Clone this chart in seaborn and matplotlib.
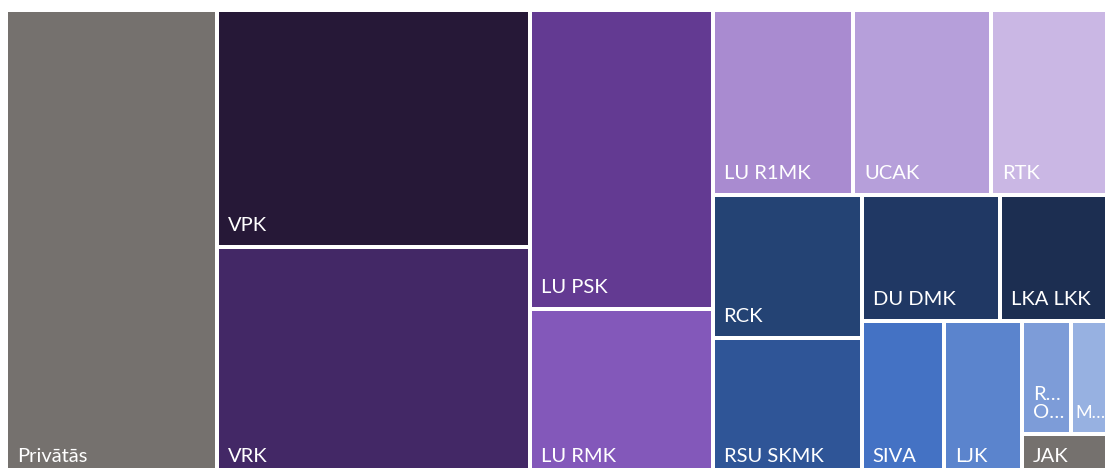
import matplotlib
matplotlib.use("Agg")
import matplotlib.pyplot as plt
from matplotlib.patches import Rectangle
import seaborn as sns

# data (relative sizes)
labels = ['Privātās', 'VPK', 'VRK', 'LU PSK', 'LU RMK', 'LU R1MK', 'UCAK', 'RTK',
          'RCK', 'RSU SKMK', 'DU DMK', 'LKA LKK', 'SIVA', 'LJK', 'R…\nO…', 'M…', 'JAK']
values = [974, 731, 713, 536, 304, 256, 251, 220,
          210, 206, 172, 139, 128, 120, 55, 46, 39]
colors = ['#75716E', '#261837', '#432866', '#633A92', '#8358BA', '#A98BD0', '#B69FDA', '#CAB7E4',
          '#244374', '#2F5597', '#203864', '#1C2E51', '#4472C4', '#5B84CD', '#7D9CD8', '#97B1E1', '#75716E']

sns.set_style("white")
plt.rcParams['font.family'] = ['Lato', 'DejaVu Sans']

# plotting area in pixels (chart runs a little past the right and bottom edge)
W, H = 1106.0, 468.0
S = 0.71  # aspect weighting used when choosing strips


def aspect(w, h):
    r = (w / S) / h
    return max(r, 1 / r)


def worst(strip, length, is_row):
    t = sum(strip) / length
    out = 0
    for a in strip:
        d = a / t
        w, h = (d, t) if is_row else (t, d)
        out = max(out, aspect(w, h))
    return out


def squarify(vals, x, y, w, h):
    tot = sum(vals)
    areas = [v * w * h / tot for v in vals]
    rects = []
    i = 0
    while i < len(areas):
        is_row = w < h
        length = w if is_row else h
        strip = [areas[i]]
        j = i + 1
        while j < len(areas) and worst(strip + [areas[j]], length, is_row) <= worst(strip, length, is_row):
            strip.append(areas[j])
            j += 1
        t = sum(strip) / length
        pos = x if is_row else y
        for a in strip:
            d = a / t
            if is_row:
                rects.append((pos, y, d, t))
            else:
                rects.append((x, pos, t, d))
            pos += d
        if is_row:
            y += t
            h -= t
        else:
            x += t
            w -= t
        i = j
    return rects


fig = plt.figure(figsize=(11.05, 4.68), dpi=100)
ax = fig.add_axes([6 / 1105, (468 - 10 - H) / 468, W / 1105, H / 468])
ax.set_xlim(0, W)
ax.set_ylim(H, 0)
ax.axis('off')

gap = 2
for (rx, ry, rw, rh), lab, col in zip(squarify(values, 0, 0, W, H), labels, colors):
    ax.add_patch(Rectangle((rx + gap, ry + gap), rw - 2 * gap, rh - 2 * gap,
                           facecolor=col, edgecolor='none'))
    narrow = rw < 45
    pad = 3 if narrow else 9
    ax.text(rx + gap + pad, ry + rh - gap - 14, lab, color='white',
            fontsize=13 if narrow else 14.5,
            ha='left', va='baseline', linespacing=1.05, clip_on=True)

fig.savefig('out.png', dpi=100)
